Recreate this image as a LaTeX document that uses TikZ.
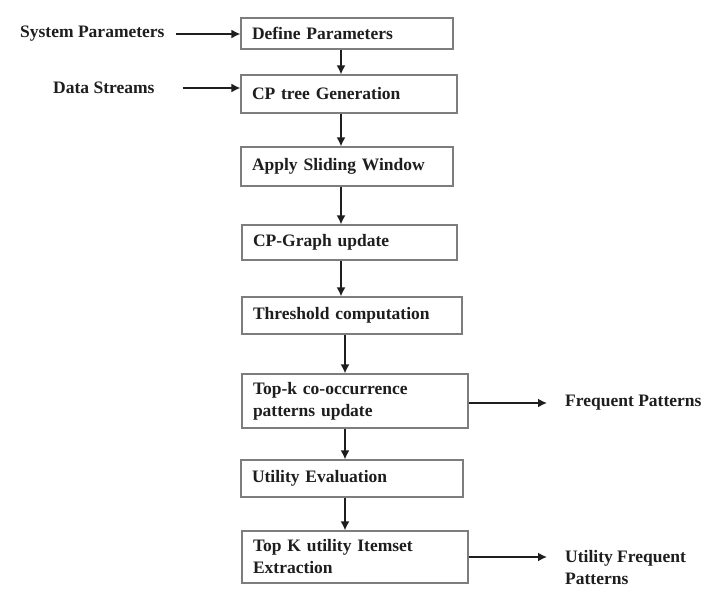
\documentclass[tikz,border=0pt]{standalone}
\usepackage{fontspec}
\setmainfont{Liberation Serif}
\usetikzlibrary{arrows.meta}
\definecolor{boxgray}{RGB}{125,125,125}
\definecolor{inkcol}{RGB}{30,30,30}
\begin{document}
\begin{tikzpicture}[x=1pt,y=-1pt,
  box/.style={draw=boxgray, line width=1.1pt, inner xsep=11pt, inner ysep=0pt,
    align=left, text=inkcol, font=\fontsize{17.5}{22}\selectfont\bfseries},
  lbl/.style={inner sep=1pt, align=left, text=inkcol, font=\fontsize{17.5}{22}\selectfont\bfseries},
  arr/.style={draw=inkcol, line width=2.2pt, -{Latex[length=9pt,width=9pt]}}]
\useasboundingbox (0,0) rectangle (723,604);
\fill[white] (0,0) rectangle (723,604);
% boxes
\node[box, minimum width=212pt, minimum height=31pt, text width=190pt] (b1) at (347,33.5) {Define Parameters};
\node[box, minimum width=216pt, minimum height=38pt, text width=194pt] (b2) at (349,94) {CP tree Generation};
\node[box, minimum width=212pt, minimum height=39pt, text width=190pt] (b3) at (347,166.5) {Apply Sliding Window};
\node[box, minimum width=215pt, minimum height=35pt, text width=193pt] (b4) at (349.5,242.5) {CP-Graph update};
\node[box, minimum width=220pt, minimum height=37pt, text width=198pt] (b5) at (352,315.5) {Threshold computation};
\node[box, minimum width=226pt, minimum height=54pt, text width=204pt] (b6) at (355,401) {Top-k co-occurrence\\patterns update};
\node[box, minimum width=222pt, minimum height=37pt, text width=200pt] (b7) at (352,478.5) {Utility Evaluation};
\node[box, minimum width=226pt, minimum height=52pt, text width=204pt] (b8) at (355,557) {Top K utility Itemset\\Extraction};
% side labels
\node[lbl, anchor=west] (sp) at (19,34) {System Parameters};
\node[lbl, anchor=west] (ds) at (52,88) {Data Streams};
\node[lbl, anchor=west] (fp) at (564,403) {Frequent Patterns};
\node[lbl, anchor=north west] (uf) at (564,549) {Utility Frequent\\Patterns};
% column coordinates
\coordinate (c1) at (341,0);
\coordinate (c2) at (345,0);
% vertical arrows
\draw[arr] (b1.south -| c1) -- (b2.north -| c1);
\draw[arr] (b2.south -| c1) -- (b3.north -| c1);
\draw[arr] (b3.south -| c1) -- (b4.north -| c1);
\draw[arr] (b4.south -| c1) -- (b5.north -| c1);
\draw[arr] (b5.south -| c2) -- (b6.north -| c2);
\draw[arr] (b6.south -| c2) -- (b7.north -| c2);
\draw[arr] (b7.south -| c2) -- (b8.north -| c2);
% horizontal arrows
\draw[arr, shorten <=10pt] (sp.east) -- (sp.east -| b1.west);
\draw[arr, shorten <=27pt] (ds.east) -- (ds.east -| b2.west);
\draw[arr, shorten >=17pt] (b6.east |- fp.west) -- (fp.west);
\draw[arr, shorten >=17pt] (b8.east) -- (b8.east -| uf.west);
\end{tikzpicture}
\end{document}
